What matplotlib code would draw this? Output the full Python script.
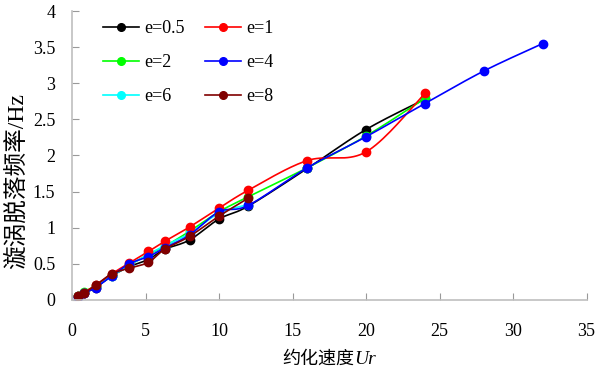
import numpy as np
import matplotlib.pyplot as plt

plt.rcParams['font.family'] = ['Liberation Serif', 'Noto Sans CJK SC']

# reduced velocity values
ur = [0.4, 0.8, 1.6, 2.7, 3.9, 5.2, 6.3, 8, 10, 12, 16, 20, 24, 28, 32]

f_e05 = [0.05, 0.09, 0.17, 0.33, 0.46, 0.56, 0.70, 0.83, 1.12, 1.30, 1.82, 2.36, 2.78]
f_e1 = [0.05, 0.10, 0.20, 0.36, 0.51, 0.67, 0.81, 1.01, 1.27, 1.52, 1.93, 2.05, 2.86]
f_e2 = [0.05, 0.11, 0.19, 0.34, 0.48, 0.63, 0.74, 0.95, 1.22, 1.43, 1.83, 2.27, 2.79]
f_e4 = [0.04, 0.09, 0.17, 0.33, 0.50, 0.60, 0.72, 0.90, 1.22, 1.31, 1.83, 2.26, 2.72, 3.17, 3.55]
f_e6 = [0.05, 0.10, 0.18, 0.33, 0.48, 0.63, 0.75, 0.92, 1.20, 1.32]
f_e8 = [0.05, 0.09, 0.20, 0.36, 0.44, 0.52, 0.70, 0.88, 1.16, 1.41]

series = [
    ("e=0.5", f_e05, "black"),
    ("e=2", f_e2, "#00ff00"),
    ("e=6", f_e6, "cyan"),
    ("e=1", f_e1, "red"),
    ("e=4", f_e4, "blue"),
    ("e=8", f_e8, "#800000"),
]


def smooth(x, y, n=20):
    # Catmull-Rom style curve through the points (like Excel smoothed lines)
    x = np.asarray(x, float)
    y = np.asarray(y, float)
    px = np.concatenate([[x[0]], x, [x[-1]]])
    py = np.concatenate([[y[0]], y, [y[-1]]])
    xs, ys = [], []
    for i in range(1, len(px) - 2):
        p0, p1, p2, p3 = (np.array([px[k], py[k]]) for k in (i - 1, i, i + 1, i + 2))
        c1 = p1 + (p2 - p0) / 6
        c2 = p2 - (p3 - p1) / 6
        t = np.linspace(0, 1, n)[:, None]
        b = (1 - t) ** 3 * p1 + 3 * (1 - t) ** 2 * t * c1 + 3 * (1 - t) * t ** 2 * c2 + t ** 3 * p2
        xs.append(b[:, 0])
        ys.append(b[:, 1])
    return np.concatenate(xs), np.concatenate(ys)


fig = plt.figure(figsize=(5.97, 3.72), dpi=100)
ax = fig.add_axes([0.1206, 0.194, 0.862, 0.776])

for label, f, c in series:
    x = ur[:len(f)]
    sx, sy = smooth(x, f)
    ax.plot(sx, sy, color=c, lw=1.2)
    ax.plot(x, f, 'o', color=c, ms=6, lw=0)
    ax.plot([], [], '-o', color=c, ms=5.5, lw=1.2, label=label)

ax.set_xlim(0, 35)
ax.set_ylim(0, 4)
ax.set_xticks(np.arange(0, 36, 5))
ax.set_yticks(np.arange(0, 4.01, 0.5))
ax.set_yticklabels(["0", "0.5", "1", "1.5", "2", "2.5", "3", "3.5", "4"])

for s in ("top", "right"):
    ax.spines[s].set_visible(False)
for s in ("left", "bottom"):
    ax.spines[s].set_color("#bfbfbf")
    ax.spines[s].set_linewidth(1.2)
ax.tick_params(direction="in", length=5, color="#999999", labelsize=13)
ax.tick_params(axis="x", pad=17)
ax.tick_params(axis="y", pad=12)

# x label: Chinese part upright, "Ur" italic
ax.text(0.548, -0.205, "约化速度", transform=ax.transAxes, ha="right", va="center",
        fontsize=13, family="Noto Sans CJK SC")
ax.text(0.548, -0.205, "Ur", transform=ax.transAxes, ha="left", va="center",
        fontsize=14, family="Liberation Serif", style="italic")
ax.set_ylabel("漩涡脱落频率/Hz", fontsize=17)
ax.yaxis.set_label_coords(-0.107, 0.41)
ax.yaxis.label.set_va("center")

ax.legend(loc="upper left", ncol=2, frameon=False, fontsize=13,
          bbox_to_anchor=(0.028, 1.025), handlelength=2.0, columnspacing=1.1,
          labelspacing=0.95, handletextpad=0.3)

fig.savefig("out.png", dpi=100)
